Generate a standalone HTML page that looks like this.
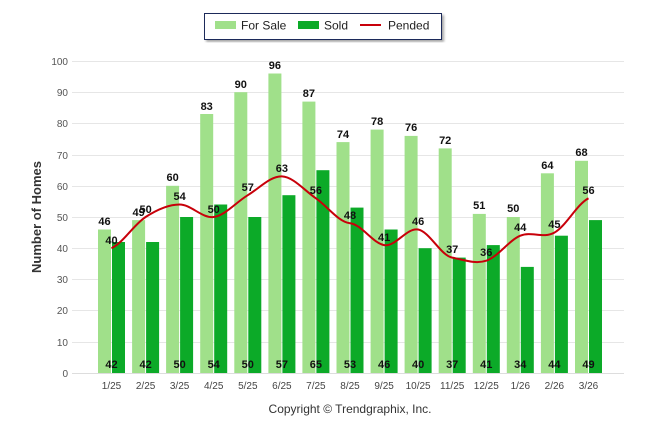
<!DOCTYPE html>
<html><head><meta charset="utf-8"><style>
body{margin:0;background:#fff;}
svg{display:block;font-family:"Liberation Sans",Arial,sans-serif;}
.yt{font-size:10px;fill:#555;text-anchor:end}
.xt{font-size:10px;fill:#444;text-anchor:middle}
.v{font-size:11px;font-weight:bold;fill:#111;text-anchor:middle}
</style></head><body>
<svg width="646" height="434" viewBox="0 0 646 434">
<defs><filter id="sh"><feDropShadow dx="2" dy="2" stdDeviation="1.2" flood-color="#000" flood-opacity="0.35"/></filter></defs>
<rect x="204.5" y="13.5" width="237" height="26" fill="#fff" stroke="#1a2a5a" filter="url(#sh)"/>
<rect x="215" y="21" width="21" height="8" fill="#a0e08a"/><text x="241" y="29.5" font-size="12" fill="#222">For Sale</text>
<rect x="298" y="21" width="21" height="8" fill="#0caa28"/><text x="324" y="29.5" font-size="12" fill="#222">Sold</text>
<line x1="360" y1="25" x2="381" y2="25" stroke="#c8000a" stroke-width="2"/><text x="388" y="29.5" font-size="12" fill="#222">Pended</text>
<g stroke="#e6e6e6" stroke-width="1">
<line x1="72" y1="61.5" x2="624" y2="61.5"/><line x1="72" y1="92.5" x2="624" y2="92.5"/><line x1="72" y1="123.5" x2="624" y2="123.5"/><line x1="72" y1="155.5" x2="624" y2="155.5"/><line x1="72" y1="186.5" x2="624" y2="186.5"/><line x1="72" y1="217.5" x2="624" y2="217.5"/><line x1="72" y1="248.5" x2="624" y2="248.5"/><line x1="72" y1="279.5" x2="624" y2="279.5"/><line x1="72" y1="310.5" x2="624" y2="310.5"/><line x1="72" y1="342.5" x2="624" y2="342.5"/><line x1="72" y1="373.5" x2="624" y2="373.5" stroke="#ddd"/>
</g>
<g class="yt"><text x="68" y="65">100</text><text x="68" y="96">90</text><text x="68" y="127">80</text><text x="68" y="159">70</text><text x="68" y="190">60</text><text x="68" y="221">50</text><text x="68" y="252">40</text><text x="68" y="283">30</text><text x="68" y="314">20</text><text x="68" y="346">10</text><text x="68" y="377">0</text></g>
<text transform="translate(41,217) rotate(-90)" text-anchor="middle" font-size="13" font-weight="bold" fill="#333">Number of Homes</text>
<g fill="#a0e08a">
<rect x="98" y="229.5" width="13" height="143.5"/><rect x="132.1" y="220.1" width="13" height="152.9"/><rect x="166.1" y="185.8" width="13" height="187.2"/><rect x="200.2" y="114" width="13" height="259"/><rect x="234.3" y="92.2" width="13" height="280.8"/><rect x="268.4" y="73.5" width="13" height="299.5"/><rect x="302.4" y="101.6" width="13" height="271.4"/><rect x="336.5" y="142.1" width="13" height="230.9"/><rect x="370.6" y="129.6" width="13" height="243.4"/><rect x="404.6" y="135.9" width="13" height="237.1"/><rect x="438.7" y="148.4" width="13" height="224.6"/><rect x="472.8" y="213.9" width="13" height="159.1"/><rect x="506.8" y="217" width="13" height="156"/><rect x="540.9" y="173.3" width="13" height="199.7"/><rect x="575" y="160.8" width="13" height="212.2"/>
</g>
<g fill="#0caa28">
<rect x="112" y="242" width="13" height="131"/><rect x="146.1" y="242" width="13" height="131"/><rect x="180.1" y="217" width="13" height="156"/><rect x="214.2" y="204.5" width="13" height="168.5"/><rect x="248.3" y="217" width="13" height="156"/><rect x="282.4" y="195.2" width="13" height="177.8"/><rect x="316.4" y="170.2" width="13" height="202.8"/><rect x="350.5" y="207.6" width="13" height="165.4"/><rect x="384.6" y="229.5" width="13" height="143.5"/><rect x="418.6" y="248.2" width="13" height="124.8"/><rect x="452.7" y="257.6" width="13" height="115.4"/><rect x="486.8" y="245.1" width="13" height="127.9"/><rect x="520.8" y="266.9" width="13" height="106.1"/><rect x="554.9" y="235.7" width="13" height="137.3"/><rect x="589" y="220.1" width="13" height="152.9"/>
</g>
<path d="M111.5,248.2 C122.9,243 134.2,224.3 145.6,217 C157,209.7 168.2,204.5 179.6,204.5 C191,204.5 202.3,218.6 213.7,217 C225.1,215.5 236.4,202 247.8,195.2 C259.2,188.4 270.5,175.9 281.9,176.4 C293.3,176.9 304.5,190.5 315.9,198.3 C327.3,206.1 338.6,222.2 350,223.2 C361.4,224.3 372.7,243 384.1,245.1 C395.5,247.2 406.7,227.4 418.1,229.5 C429.5,231.6 440.8,255.5 452.2,257.6 C463.6,259.7 474.9,264.4 486.3,260.7 C497.7,257 508.9,240.4 520.3,235.7 C531.7,231 543,238.8 554.4,232.6 C565.8,226.4 577.1,204 588.5,198.3" fill="none" stroke="#c8000a" stroke-width="2"/>
<g class="v">
<text x="104.5" y="225">46</text><text x="138.6" y="216">49</text><text x="172.6" y="181">60</text><text x="206.7" y="110">83</text><text x="240.8" y="88">90</text><text x="274.9" y="69">96</text><text x="308.9" y="97">87</text><text x="343" y="138">74</text><text x="377.1" y="125">78</text><text x="411.1" y="131">76</text><text x="445.2" y="144">72</text><text x="479.3" y="209">51</text><text x="513.3" y="212">50</text><text x="547.4" y="169">64</text><text x="581.5" y="156">68</text>
<text x="111.5" y="244">40</text><text x="145.6" y="213">50</text><text x="179.6" y="200">54</text><text x="213.7" y="213">50</text><text x="247.8" y="191">57</text><text x="281.9" y="172">63</text><text x="315.9" y="194">56</text><text x="350" y="219">48</text><text x="384.1" y="241">41</text><text x="418.1" y="225">46</text><text x="452.2" y="253">37</text><text x="486.3" y="256">36</text><text x="520.3" y="231">44</text><text x="554.4" y="228">45</text><text x="588.5" y="194">56</text>
<text x="111.5" y="368">42</text><text x="145.6" y="368">42</text><text x="179.6" y="368">50</text><text x="213.7" y="368">54</text><text x="247.8" y="368">50</text><text x="281.9" y="368">57</text><text x="315.9" y="368">65</text><text x="350" y="368">53</text><text x="384.1" y="368">46</text><text x="418.1" y="368">40</text><text x="452.2" y="368">37</text><text x="486.3" y="368">41</text><text x="520.3" y="368">34</text><text x="554.4" y="368">44</text><text x="588.5" y="368">49</text>
</g>
<g class="xt">
<text x="111.5" y="389">1/25</text><text x="145.6" y="389">2/25</text><text x="179.6" y="389">3/25</text><text x="213.7" y="389">4/25</text><text x="247.8" y="389">5/25</text><text x="281.9" y="389">6/25</text><text x="315.9" y="389">7/25</text><text x="350" y="389">8/25</text><text x="384.1" y="389">9/25</text><text x="418.1" y="389">10/25</text><text x="452.2" y="389">11/25</text><text x="486.3" y="389">12/25</text><text x="520.3" y="389">1/26</text><text x="554.4" y="389">2/26</text><text x="588.5" y="389">3/26</text>
</g>
<text x="350" y="413" text-anchor="middle" font-size="12" fill="#333">Copyright © Trendgraphix, Inc.</text>
</svg>
</body></html>
